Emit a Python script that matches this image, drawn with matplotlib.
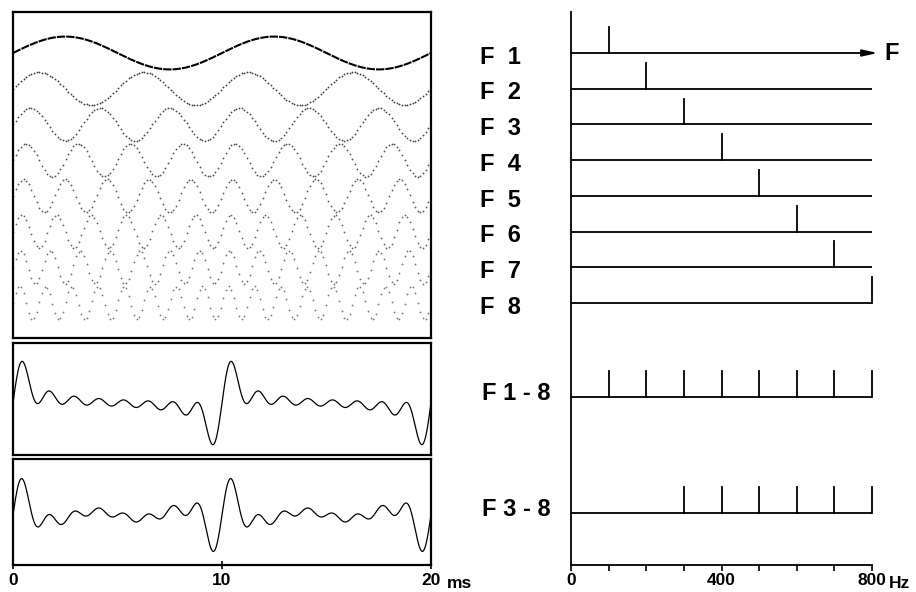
import numpy as np
import matplotlib.pyplot as plt

plt.rcParams["font.family"] = ["Liberation Sans", "DejaVu Sans"]
plt.rcParams["font.weight"] = "bold"

# components (Hz) and their relative amplitudes
freqs = [100, 200, 300, 400, 500, 600, 700, 800]
amps = [1, 1, 1, 1, 1, 1, 1, 1]
labels = ["F  1", "F  2", "F  3", "F  4", "F  5", "F  6", "F  7", "F  8"]
sum_labels = ["F 1 - 8", "F 3 - 8"]
sum_members = [[1, 2, 3, 4, 5, 6, 7, 8], [3, 4, 5, 6, 7, 8]]
time_ticks = [0, 10, 20]
freq_ticks = [0, 100, 200, 300, 400, 500, 600, 700, 800]
freq_ticklabels = ["0", "", "", "", "400", "", "", "", "800"]

W, H = 916, 592
fig = plt.figure(figsize=(W / 100, H / 100), dpi=100)


def px_axes(x0, y0, x1, y1):
    return fig.add_axes([x0 / W, 1 - y1 / H, (x1 - x0) / W, (y1 - y0) / H])


ROW = 35.7  # pixels per row
t = np.linspace(0, 20, 1000)
t_dots = np.linspace(0, 20, 160)


def wave(tt, members, scale):
    s = np.zeros_like(tt)
    for n in members:
        s += amps[n - 1] * np.sin(2 * np.pi * freqs[n - 1] * tt / 1000)
    return s * scale


# ---- left: individual components ----
ax1 = px_axes(13, 12, 431, 338)
ax1.set_xlim(0, 20), ax1.set_ylim((338 - 53) / ROW, (12 - 53) / ROW)
for i in range(8):
    y = i - wave(t_dots if i else t, [i + 1], 0.46)
    if i == 0:
        ax1.plot(t, y, color="k", lw=1.5, ls=(0, (4, 0.5)))
    else:
        ax1.plot(t_dots, y, ls="none", marker="o", ms=1.3, mew=0,
                 color=str(0.2 + 0.04 * i))

# ---- left: sums ----
ax2 = px_axes(13, 343, 431, 455)
ax2.set_xlim(0, 20), ax2.set_ylim((455 - 403) / ROW, (343 - 403) / ROW)
ax2.plot(t, -wave(t, sum_members[0], 0.19), color="k", lw=0.9)

ax3 = px_axes(13, 459, 431, 565)
ax3.set_xlim(0, 20), ax3.set_ylim((565 - 515) / ROW, (459 - 515) / ROW)
ax3.plot(t, -wave(t, sum_members[1], 0.19), color="k", lw=0.9)

for ax in (ax1, ax2, ax3):
    for s in ax.spines.values():
        s.set_linewidth(1.6)
    ax.set_yticks([])
    ax.set_xticks([])
ax3.set_xticks(time_ticks)
ax3.set_xticklabels([str(v) for v in time_ticks])
ax3.tick_params(axis="x", direction="inout", length=6, width=1.2, pad=3,
                labelsize=12.5)
ax3.annotate("ms", xy=(20, 0), xycoords=("data", "axes fraction"),
             xytext=(11.5, -13.5), textcoords="offset points", fontsize=12.5,
             ha="left", va="center", fontweight="bold")

# ---- right: spectra ----
axr = px_axes(571, 12, 872, 565)
axr.set_xlim(0, 800)
axr.set_ylim((565 - 53) / ROW, (12 - 53) / ROW)
for s in ("top", "right"):
    axr.spines[s].set_visible(False)
axr.spines["left"].set_linewidth(1.3)
axr.spines["bottom"].set_linewidth(1.3)
axr.set_yticks([])
axr.set_xticks(freq_ticks)
axr.set_xticklabels(freq_ticklabels)
axr.tick_params(axis="x", direction="out", length=4, width=1.2, pad=2,
                labelsize=12.5)
axr.annotate("Hz", xy=(800, 0), xycoords=("data", "axes fraction"),
             xytext=(12, -13.5), textcoords="offset points", fontsize=12.5,
             ha="left", va="center", fontweight="bold")

spike = 0.72
for i, f in enumerate(freqs):
    if i == 0:
        axr.annotate("", xy=(815, i), xytext=(0, i),
                     arrowprops=dict(arrowstyle="-|>,head_length=0.9,head_width=0.2",
                                     color="k", lw=1.3, shrinkA=0, shrinkB=0),
                     annotation_clip=False)
        axr.text(832, i, "F", fontsize=17, ha="left", va="center",
                 fontweight="bold", clip_on=False)
    else:
        axr.plot([0, 800], [i, i], color="k", lw=1.3)
    axr.plot([f, f], [i, i - spike * amps[i]], color="k", lw=1.3,
             clip_on=False)
    axr.text(-0.302, i + 0.12, labels[i], transform=axr.get_yaxis_transform(),
             fontsize=17, ha="left", va="center", fontweight="bold")

sum_rows = [(397 - 53) / ROW, (513 - 53) / ROW]
for r, lab, members in zip(sum_rows, sum_labels, sum_members):
    axr.plot([0, 800], [r, r], color="k", lw=1.3)
    for n in members:
        axr.plot([freqs[n - 1]] * 2, [r, r - spike * amps[n - 1]], color="k",
                 lw=1.3, clip_on=False)
    axr.text(-0.295, r - 0.1, lab, transform=axr.get_yaxis_transform(),
             fontsize=17, ha="left", va="center", fontweight="bold")

plt.savefig("out.png", dpi=100)
